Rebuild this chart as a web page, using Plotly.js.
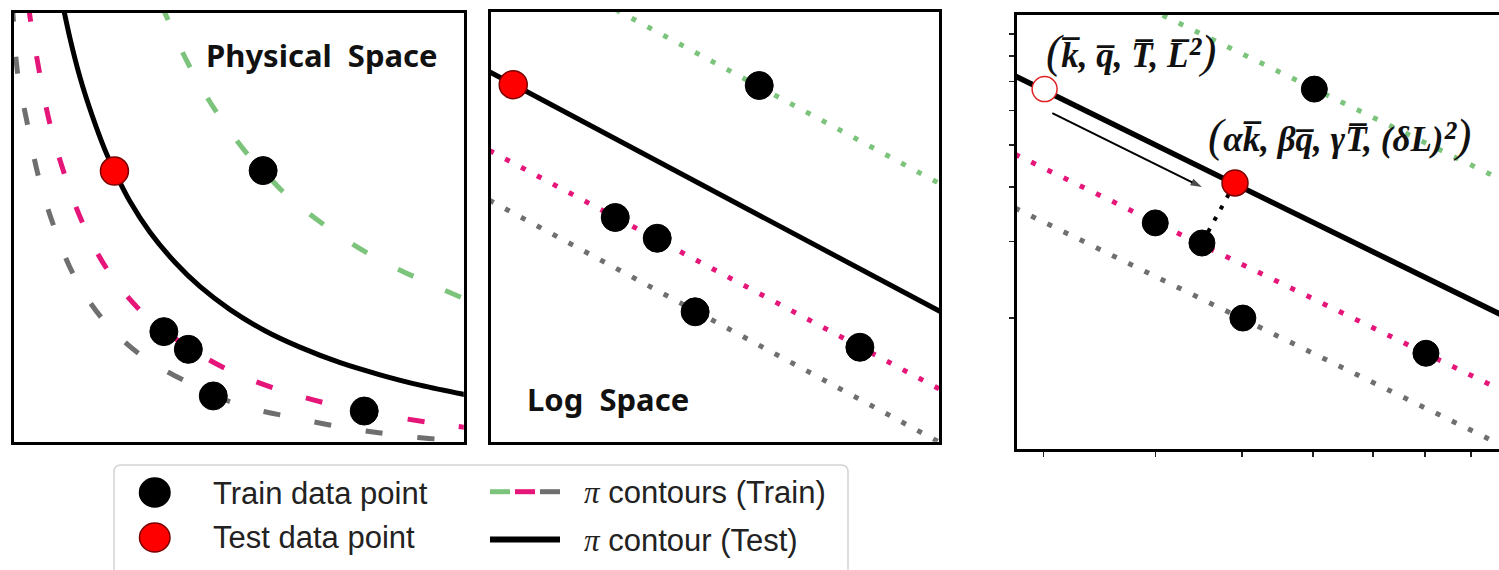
<!DOCTYPE html>
<html>
<head>
<meta charset="utf-8">
<script src="https://cdn.plot.ly/plotly-3.0.1.min.js"></script>
<style>
  html, body { margin: 0; padding: 0; background: #fff; }
  #chart { width: 1499px; height: 570px; }
</style>
</head>
<body>
<div id="chart"></div>
<script>
// ---------- Physical space (linear axes) ----------
const physTestCurveX = [1.13, 1.28, 1.50, 1.77, 2.05, 2.26, 2.60, 3.04, 3.60, 4.15, 4.81, 5.58, 6.35, 7.24, 8.12, 9.00, 10.10];
const physTestCurveY = [10.10, 9.37, 8.47, 7.58, 6.79, 6.30, 5.60, 4.89, 4.18, 3.62, 3.09, 2.60, 2.22, 1.86, 1.58, 1.34, 1.10];
const physGreenX = [3.29, 3.43, 3.89, 4.52, 5.18, 5.54, 6.02, 6.94, 7.96, 9.02, 10.10];
const physGreenY = [10.15, 9.83, 8.78, 7.65, 6.71, 6.31, 5.78, 5.01, 4.33, 3.78, 3.29];
const physPinkX = [0.36, 0.41, 0.60, 0.83, 1.15, 1.57, 2.12, 2.88, 3.84, 4.86, 5.96, 7.10, 8.30, 9.44, 10.10];
const physPinkY = [10.15, 9.78, 8.62, 7.42, 6.25, 5.07, 3.99, 3.02, 2.25, 1.65, 1.21, 0.88, 0.63, 0.44, 0.35];
const physGrayX = [0.01, 0.03, 0.12, 0.34, 0.58, 0.93, 1.37, 2.03, 2.90, 3.89, 5.01, 6.15, 7.32, 8.50, 9.73, 10.10];
const physGrayY = [10.15, 9.80, 8.60, 7.39, 6.19, 5.00, 3.87, 2.83, 1.99, 1.40, 0.88, 0.60, 0.36, 0.18, 0.05, 0.00];
const physTrainX = [5.54, 3.35, 3.89, 4.44, 7.77];
const physTrainY = [6.31, 2.58, 2.17, 1.09, 0.74];
const physTestX = [2.26];
const physTestY = [6.30];

// ---------- Log space (straight contours) ----------
const logTestLineX = [0, 10];
const logTestLineY = [8.59, 3.04];
const logGreenX = [2.45, 10];
const logGreenY = [10.22, 5.99];
const logPinkX = [0, 10];
const logPinkY = [6.77, 1.24];
const logGrayX = [0, 10];
const logGrayY = [5.62, 0.01];
const logTrainX = [5.98, 2.79, 3.72, 4.56, 8.21];
const logTrainY = [8.27, 5.22, 4.74, 3.04, 2.22];
const logTestX = [0.53];
const logTestY = [8.29];

// ---------- Scaled test point on log-log axes ----------
const shiftTestLineX = [2.79, 10];
const shiftTestLineY = [7.20, 1.98];
const shiftGreenX = [3.75, 10];
const shiftGreenY = [10.8, 4.05];
const shiftPinkX = [2.79, 10];
const shiftPinkY = [4.76, 1.33];
const shiftGrayX = [2.79, 10];
const shiftGrayY = [3.58, 0.994];
const shiftTrainX = [6.02, 4.00, 4.51, 5.01, 8.02];
const shiftTrainY = [6.72, 3.31, 2.975, 2.00, 1.66];
const originX = [3.01];
const originY = [6.72];
const scaledX = [4.91];
const scaledY = [4.09];
const arrowX = [3.07, 4.51];
const arrowY = [5.92, 4.00];
const xTickVals = [3, 4, 5, 6, 7, 8, 9];
const yTickVals = [2, 3, 4, 5, 6, 7, 8, 9];

const PI = '<span style="font-family:\'Liberation Serif\';font-style:italic">\u03c0</span>';
const legendLabels = ['Train data point', 'Test data point', PI + ' contours (Train)', PI + ' contour (Test)'];
const BIG = s => '<span style="font-size:46px;font-weight:normal">' + s + '</span>';
const SQ = '<span style="font-size:42px">\u00b2</span>';
const originLabel = BIG('(') + 'k\u0305, q\u0305, T\u0305, L\u0305' + SQ + BIG(')');
const scaledLabel = BIG('(') + '\u03b1k\u0305, \u03b2q\u0305, \u03b3T\u0305, (\u03b4L)' + SQ + BIG(')');

// ---------- styling ----------
const GREEN = '#7cc47c', PINK = '#e6157a', GRAY = '#6f6f6f', RED = '#ff0000', REDLINE = '#7a0000';
const W = 1499, H = 570;
const fx = px => px / W;
const fy = py => 1 - py / H;

const dashed = c => ({ color: c, width: 5, dash: '17px,35px', shape: 'spline', smoothing: 1 });
const dotted = c => ({ color: c, width: 5, dash: '5px,13px' });
const solid = { color: '#000', width: 5, shape: 'spline', smoothing: 1 };
const trainMarker = s => ({ size: s, color: '#000', line: { color: '#000', width: 1 } });
const testMarker = s => ({ size: s, color: RED, line: { color: REDLINE, width: 1.5 } });

function line(x, y, ax, ln) {
  return { type: 'scatter', mode: 'lines', x: x, y: y, xaxis: ax[0], yaxis: ax[1], line: ln, hoverinfo: 'skip' };
}
function pts(x, y, ax, mk) {
  return { type: 'scatter', mode: 'markers', x: x, y: y, xaxis: ax[0], yaxis: ax[1], marker: mk, hoverinfo: 'skip' };
}

const A1 = ['x', 'y'], A2 = ['x2', 'y2'], A3 = ['x3', 'y3'];

const data = [
  line(physGrayX, physGrayY, A1, dashed(GRAY)),
  line(physPinkX, physPinkY, A1, dashed(PINK)),
  line(physGreenX, physGreenY, A1, dashed(GREEN)),
  line(physTestCurveX, physTestCurveY, A1, solid),
  pts(physTrainX, physTrainY, A1, trainMarker(28)),
  pts(physTestX, physTestY, A1, testMarker(28)),

  line(logGrayX, logGrayY, A2, dotted(GRAY)),
  line(logPinkX, logPinkY, A2, dotted(PINK)),
  line(logGreenX, logGreenY, A2, dotted(GREEN)),
  line(logTestLineX, logTestLineY, A2, { color: '#000', width: 5 }),
  pts(logTrainX, logTrainY, A2, trainMarker(28)),
  pts(logTestX, logTestY, A2, testMarker(28)),

  line(shiftGrayX, shiftGrayY, A3, dotted(GRAY)),
  line(shiftPinkX, shiftPinkY, A3, dotted(PINK)),
  line(shiftGreenX, shiftGreenY, A3, dotted(GREEN)),
  line(shiftTestLineX, shiftTestLineY, A3, { color: '#000', width: 5.5 }),
  line([scaledX[0], shiftTrainX[2]], [scaledY[0], shiftTrainY[2]], A3, { color: '#000', width: 4, dash: '4px,9px' }),
  // shift arrow from the original test point toward the scaled one
  {
    type: 'scatter', mode: 'lines+markers', x: arrowX, y: arrowY, xaxis: 'x3', yaxis: 'y3', hoverinfo: 'skip',
    line: { color: '#000', width: 2 },
    marker: { symbol: 'arrow', angleref: 'previous', size: [0, 12], color: '#000', line: { width: 0 } }
  },
  pts(shiftTrainX, shiftTrainY, A3, trainMarker(26)),
  pts(originX, originY, A3, { size: 25, color: '#fff', line: { color: '#e02020', width: 1.5 } }),
  pts(scaledX, scaledY, A3, testMarker(26))
];

const frame = {
  showgrid: false, zeroline: false, showticklabels: false, ticks: '',
  showline: true, mirror: true, linewidth: 3, linecolor: '#000', fixedrange: true
};

const labelFont = { family: 'Liberation Serif', size: 35, color: '#111', weight: 'bold', style: 'italic' };
const legendFont = { family: 'Liberation Sans', size: 31, color: '#222' };
const panelFont = { family: 'Noto Sans', size: 31, color: '#111', weight: 'bold' };

const layout = {
  width: W, height: H,
  margin: { l: 0, r: 0, t: 0, b: 0 },
  paper_bgcolor: '#fff', plot_bgcolor: '#fff',
  showlegend: false,
  xaxis: Object.assign({}, frame, { domain: [fx(13.5), fx(463.8)], range: [0.033, 9.967], anchor: 'y' }),
  yaxis: Object.assign({}, frame, { domain: [fy(441.5), fy(12.8)], range: [0.035, 9.965], anchor: 'x' }),
  xaxis2: Object.assign({}, frame, { domain: [fx(490.8), fx(939.2)], range: [0.033, 9.967], anchor: 'y2' }),
  yaxis2: Object.assign({}, frame, { domain: [fy(441.8), fy(12.2)], range: [0.035, 9.965], anchor: 'x2' }),
  xaxis3: Object.assign({}, frame, {
    type: 'log', domain: [fx(1016.5), 1], range: [0.4472, 0.9857], anchor: 'y3',
    ticks: 'outside', tickvals: xTickVals, ticklen: 5, tickwidth: 1.5, tickcolor: '#222'
  }),
  yaxis3: Object.assign({}, frame, {
    type: 'log', domain: [fy(449), fy(14.8)], range: [0, 0.9982], anchor: 'x3', mirror: false,
    ticks: 'outside', tickvals: yTickVals, ticklen: 5, tickwidth: 1.5, tickcolor: '#222'
  }),
  annotations: [
    { xref: 'paper', yref: 'paper', x: fx(321.5), y: fy(55), xanchor: 'center', yanchor: 'middle',
      text: 'Physical  Space', showarrow: false, font: panelFont },
    { xref: 'paper', yref: 'paper', x: fx(607.5), y: fy(399), xanchor: 'center', yanchor: 'middle',
      text: 'Log  Space', showarrow: false, font: panelFont },
    { xref: 'x3', yref: 'y3', x: Math.log10(originX[0]), y: Math.log10(originY[0]),
      xshift: 86, yshift: 38, xanchor: 'center', yanchor: 'middle', showarrow: false, text: originLabel,
      font: labelFont },
    { xref: 'x3', yref: 'y3', x: Math.log10(scaledX[0]), y: Math.log10(scaledY[0]),
      xshift: 104, yshift: 47, xanchor: 'center', yanchor: 'middle', showarrow: false, text: scaledLabel,
      font: labelFont },
    // legend texts
    { xref: 'paper', yref: 'paper', x: fx(211), y: fy(493), xanchor: 'left', yanchor: 'middle', showarrow: false,
      text: legendLabels[0], font: legendFont },
    { xref: 'paper', yref: 'paper', x: fx(211), y: fy(537), xanchor: 'left', yanchor: 'middle', showarrow: false,
      text: legendLabels[1], font: legendFont },
    { xref: 'paper', yref: 'paper', x: fx(582), y: fy(492), xanchor: 'left', yanchor: 'middle', showarrow: false,
      text: legendLabels[2], font: legendFont },
    { xref: 'paper', yref: 'paper', x: fx(582), y: fy(540), xanchor: 'left', yanchor: 'middle', showarrow: false,
      text: legendLabels[3], font: legendFont }
  ],
  shapes: []
};

// legend frame with rounded top corners, glyphs and line samples
(function () {
  const x0 = fx(114), x1 = fx(848), y0 = fy(465), y1 = fy(600);
  const rx = 7 / W, ry = 7 / H;
  layout.shapes.push({
    type: 'path', xref: 'paper', yref: 'paper',
    path: `M ${x0 + rx},${y0} L ${x1 - rx},${y0} Q ${x1},${y0} ${x1},${y0 - ry} L ${x1},${y1} L ${x0},${y1} L ${x0},${y0 - ry} Q ${x0},${y0} ${x0 + rx},${y0} Z`,
    line: { color: '#d4d4d4', width: 1.5 }, fillcolor: 'rgba(0,0,0,0)'
  });
  const glyph = (cy, fill, edge) => ({
    type: 'circle', xref: 'paper', yref: 'paper',
    x0: fx(139.5), x1: fx(170), y0: fy(cy + 14.5), y1: fy(cy - 14.5),
    fillcolor: fill, line: { color: edge, width: 1.5 }
  });
  layout.shapes.push(glyph(492.5, '#000', '#000'));
  layout.shapes.push(glyph(537.5, RED, REDLINE));
  const seg = (xa, xb, y, c, w) => ({
    type: 'line', xref: 'paper', yref: 'paper', x0: fx(xa), x1: fx(xb), y0: fy(y), y1: fy(y),
    line: { color: c, width: w }
  });
  layout.shapes.push(seg(490, 510, 491.7, GREEN, 5));
  layout.shapes.push(seg(515, 535, 491.7, PINK, 5));
  layout.shapes.push(seg(540, 560, 491.7, GRAY, 5));
  layout.shapes.push(seg(490, 560, 539.5, '#000', 6));
})();

Plotly.newPlot('chart', data, layout, { displayModeBar: false, staticPlot: true });
</script>
</body>
</html>
